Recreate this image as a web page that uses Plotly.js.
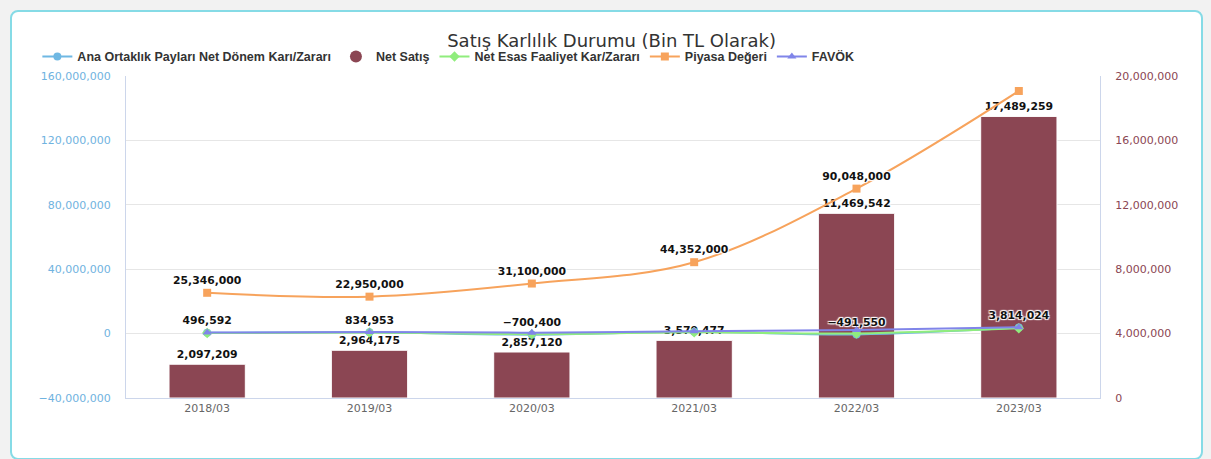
<!DOCTYPE html>
<html>
<head>
<meta charset="utf-8">
<script src="https://cdn.plot.ly/plotly-3.0.1.min.js"></script>
<style>
  html, body { margin:0; padding:0; width:1211px; height:459px; background:#f2f2f2; overflow:hidden; }
  #card { position:absolute; left:10px; top:10px; width:1189px; height:446px; background:#fff; border:2px solid #86dbe6; border-radius:8px; }
  #chart { position:absolute; left:0; top:0; width:1211px; height:459px; }
</style>
</head>
<body>
<div id="card"></div>
<div id="chart"></div>
<script>
// ---- data ----
const categories = ["2018/03", "2019/03", "2020/03", "2021/03", "2022/03", "2023/03"];
const netSatis = [2097209, 2964175, 2857120, 3579477, 11469542, 17489259];
const anaOrtaklik = [496592, 834953, -700400, 1100000, -491550, 3814024];
const anaOrtaklikLabels = ["496,592", "834,953", "−700,400", "", "−491,550", "3,814,024"];
const netEsas = [350000, 650000, -350000, 800000, 100000, 3300000];
const piyasaDegeri = [25346000, 22950000, 31100000, 44352000, 90048000, 150700000];
const piyasaLabels = ["25,346,000", "22,950,000", "31,100,000", "44,352,000", "90,048,000", ""];
const favok = [650000, 1000000, 600000, 1500000, 2200000, 3900000];

const labelFont = {
  family: "DejaVu Sans, Verdana, sans-serif", size: 10.8, color: "#111", weight: 600,
  shadow: "1px 1px 1px #fff, -1px -1px 1px #fff, 1px -1px 1px #fff, -1px 1px 1px #fff"
};

const traces = [
  {
    type: "bar", name: "Net Satış", x: categories, y: netSatis, yaxis: "y",
    marker: { color: "#8b4653", line: { color: "#fff", width: 1 } },
    width: 0.47, text: netSatis, texttemplate: "%{y:,}", textposition: "outside",
    textfont: labelFont, cliponaxis: false, showlegend: false
  },
  {
    type: "scatter", mode: "lines+markers+text", name: "Ana Ortaklık Payları Net Dönem Karı/Zararı",
    x: categories, y: anaOrtaklik, yaxis: "y2",
    line: { color: "#6fb8e3", width: 2, shape: "spline" },
    marker: { symbol: "circle", size: 8, color: "#6fb8e3" },
    text: anaOrtaklikLabels, textposition: "top center", textfont: labelFont, cliponaxis: false, legendrank: 1
  },
  {
    // legend entry for the column series (round symbol, as in the original)
    type: "scatter", mode: "markers", name: "Net Satış", x: [null], y: [null], yaxis: "y2",
    marker: { symbol: "circle", size: 12, color: "#8b4653" }, legendrank: 2, hoverinfo: "skip"
  },
  {
    type: "scatter", mode: "lines+markers", name: "Net Esas Faaliyet Kar/Zararı",
    x: categories, y: netEsas, yaxis: "y2",
    line: { color: "#90ed7d", width: 2, shape: "spline" },
    marker: { symbol: "diamond", size: 8, color: "#90ed7d" }, legendrank: 3
  },
  {
    type: "scatter", mode: "lines+markers+text", name: "Piyasa Değeri",
    x: categories, y: piyasaDegeri, yaxis: "y2",
    line: { color: "#f7a35c", width: 2, shape: "spline" },
    marker: { symbol: "square", size: 8, color: "#f7a35c" },
    text: piyasaLabels, textposition: "top center", textfont: labelFont, cliponaxis: false, legendrank: 4
  },
  {
    type: "scatter", mode: "lines+markers", name: "FAVÖK",
    x: categories, y: favok, yaxis: "y2",
    line: { color: "#8085e9", width: 2, shape: "spline" },
    marker: { symbol: "triangle-up", size: 8, color: "#8085e9" }, legendrank: 5
  }
];

const layout = {
  width: 1211, height: 459,
  paper_bgcolor: "rgba(0,0,0,0)", plot_bgcolor: "rgba(0,0,0,0)",
  margin: { l: 126, r: 111, t: 76, b: 61 },
  font: { family: "DejaVu Sans, Verdana, sans-serif", color: "#333" },
  title: {
    text: "Satış Karlılık Durumu (Bin TL Olarak)",
    x: 0.505, xanchor: "center", y: 0.912, yanchor: "middle", yref: "container",
    font: { family: "DejaVu Sans, sans-serif", size: 18, color: "#333" }
  },
  showlegend: true,
  legend: {
    orientation: "h", x: -0.091, xanchor: "left", y: 1.106, yanchor: "top",
    font: { family: "Liberation Sans Narrow, Liberation Sans, Arial, sans-serif", size: 12.5, color: "#333", weight: "bold" },
    itemwidth: 30, tracegroupgap: 0, bgcolor: "rgba(0,0,0,0)"
  },
  bargap: 0.53,
  xaxis: {
    type: "category", showgrid: false, showline: true, linecolor: "#ccd6eb", linewidth: 1,
    ticks: "", tickfont: { size: 11, color: "#666" }, zeroline: false, fixedrange: true
  },
  yaxis: {
    side: "right", range: [0, 20000000], dtick: 4000000, tickformat: ",d",
    showgrid: true, gridcolor: "#e6e6e6", zeroline: false, showline: true, linecolor: "#ccd6eb",
    ticks: "", ticklabelstandoff: 12, tickfont: { size: 11, color: "#8b4653" }
  },
  yaxis2: {
    overlaying: "y", side: "left", range: [-40000000, 160000000], dtick: 40000000, tickformat: ",d",
    showgrid: false, zeroline: false, showline: true, linecolor: "#ccd6eb",
    ticks: "", ticklabelstandoff: 12, tickfont: { size: 11, color: "#6fb3e0" }
  }
};

Plotly.newPlot("chart", traces, layout, { displayModeBar: false, staticPlot: true });
</script>
</body>
</html>
